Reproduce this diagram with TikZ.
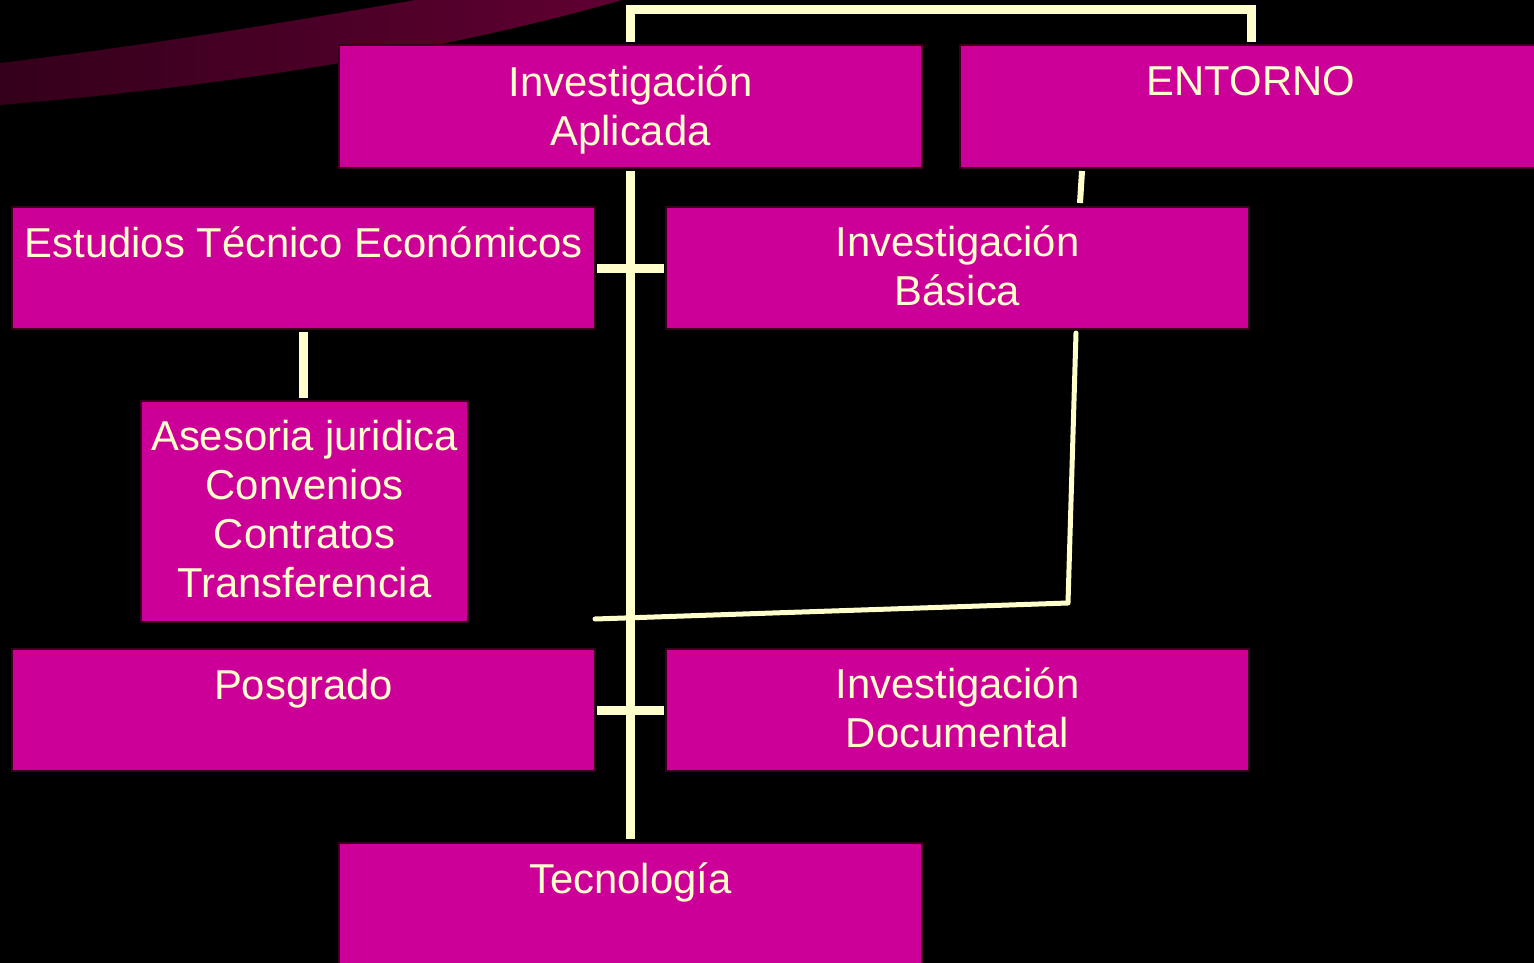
\documentclass[tikz,border=0pt]{standalone}
\usepackage{fontspec}
\setmainfont{Liberation Sans}
\usetikzlibrary{calc}
\definecolor{boxfill}{RGB}{204,0,153}
\definecolor{boxedge}{RGB}{55,0,28}
\definecolor{cream}{RGB}{255,255,204}
\definecolor{swL}{RGB}{52,0,26}
\definecolor{swR}{RGB}{96,0,50}
\tikzset{
  pbox/.style={draw=boxedge, line width=2.5pt, fill=boxfill, anchor=north west, inner sep=0pt, outer sep=0pt},
  lbl/.style={text=cream, font=\fontsize{41.8}{49}\selectfont, align=center, inner sep=0pt},
  link/.style={draw=cream, line width=9pt},
  thinlink/.style={draw=cream, line width=5pt, line cap=round, line join=round},
}
\begin{document}
\begin{tikzpicture}[x=1pt,y=-1pt]
\fill[black] (0,0) rectangle (1534,963);
\useasboundingbox (0,0) rectangle (1534,963);
% background swoosh
\shade[left color=swL, right color=swR]
  (0,63) .. controls (150,45) and (300,20) .. (415,0) -- (622,0)
  .. controls (500,35) and (300,80) .. (0,105) -- cycle;
% boxes
\node[pbox, minimum width=583pt, minimum height=123pt] (ia) at (339,45) {};
\node[pbox, minimum width=590pt, minimum height=123pt] (ent) at (960,45) {};
\node[pbox, minimum width=583pt, minimum height=122pt] (est) at (12,207) {};
\node[pbox, minimum width=583pt, minimum height=122pt] (bas) at (666,207) {};
\node[pbox, minimum width=327pt, minimum height=221pt] (ase) at (141,401) {};
\node[pbox, minimum width=583pt, minimum height=122pt] (pos) at (12,649) {};
\node[pbox, minimum width=583pt, minimum height=122pt] (doc) at (666,649) {};
\node[pbox, minimum width=583pt, minimum height=150pt] (tec) at (339,843) {};
% labels
\node[lbl] (ia-t) at (630.5,109.5) {Investigación\\Aplicada};
\node[lbl, anchor=base] (ent-t) at (1251,96) {ENTORNO};
\node[lbl, anchor=base] (est-t) at (303.5,257) {Estudios Técnico Económicos};
\node[lbl] (bas-t) at (957.5,266) {Investigación\\Básica};
\node[lbl] (ase-t) at (304.5,509) {Asesoria juridica\\Convenios\\Contratos\\Transferencia};
\node[lbl, anchor=base] (pos-t) at (303.5,699) {Posgrado};
\node[lbl] (doc-t) at (957.5,708) {Investigación\\Documental};
\node[lbl, anchor=base] (tec-t) at (630.5,893) {Tecnología};
% connectors
\coordinate (topR) at (1251,10);
\coordinate (entTop) at (1251,42);
\draw[link, line join=miter, shorten <=3pt] (ia.north) -- (ia.north |- topR) -- (topR) -- (entTop);
\draw[link, shorten <=3pt, shorten >=4pt] (ia.south) -- (tec.north);
\draw[link, shorten <=2pt, shorten >=2pt] (est.east) -- (bas.west);
\draw[link, shorten <=2pt, shorten >=2pt] (pos.east) -- (doc.west);
\draw[link, shorten <=3pt, shorten >=3pt] (est.south) -- (est.south |- ase.north);
\coordinate (eb1) at (1082,171);
\coordinate (eb2) at (1080,203);
\draw[draw=cream, line width=6pt] (eb1) -- (eb2);
\coordinate (b1) at (1076,333);
\coordinate (b2) at (1068,603);
\coordinate (b3) at (595,619);
\draw[thinlink] (b1) -- (b2) -- (b3);
\end{tikzpicture}
\end{document}
